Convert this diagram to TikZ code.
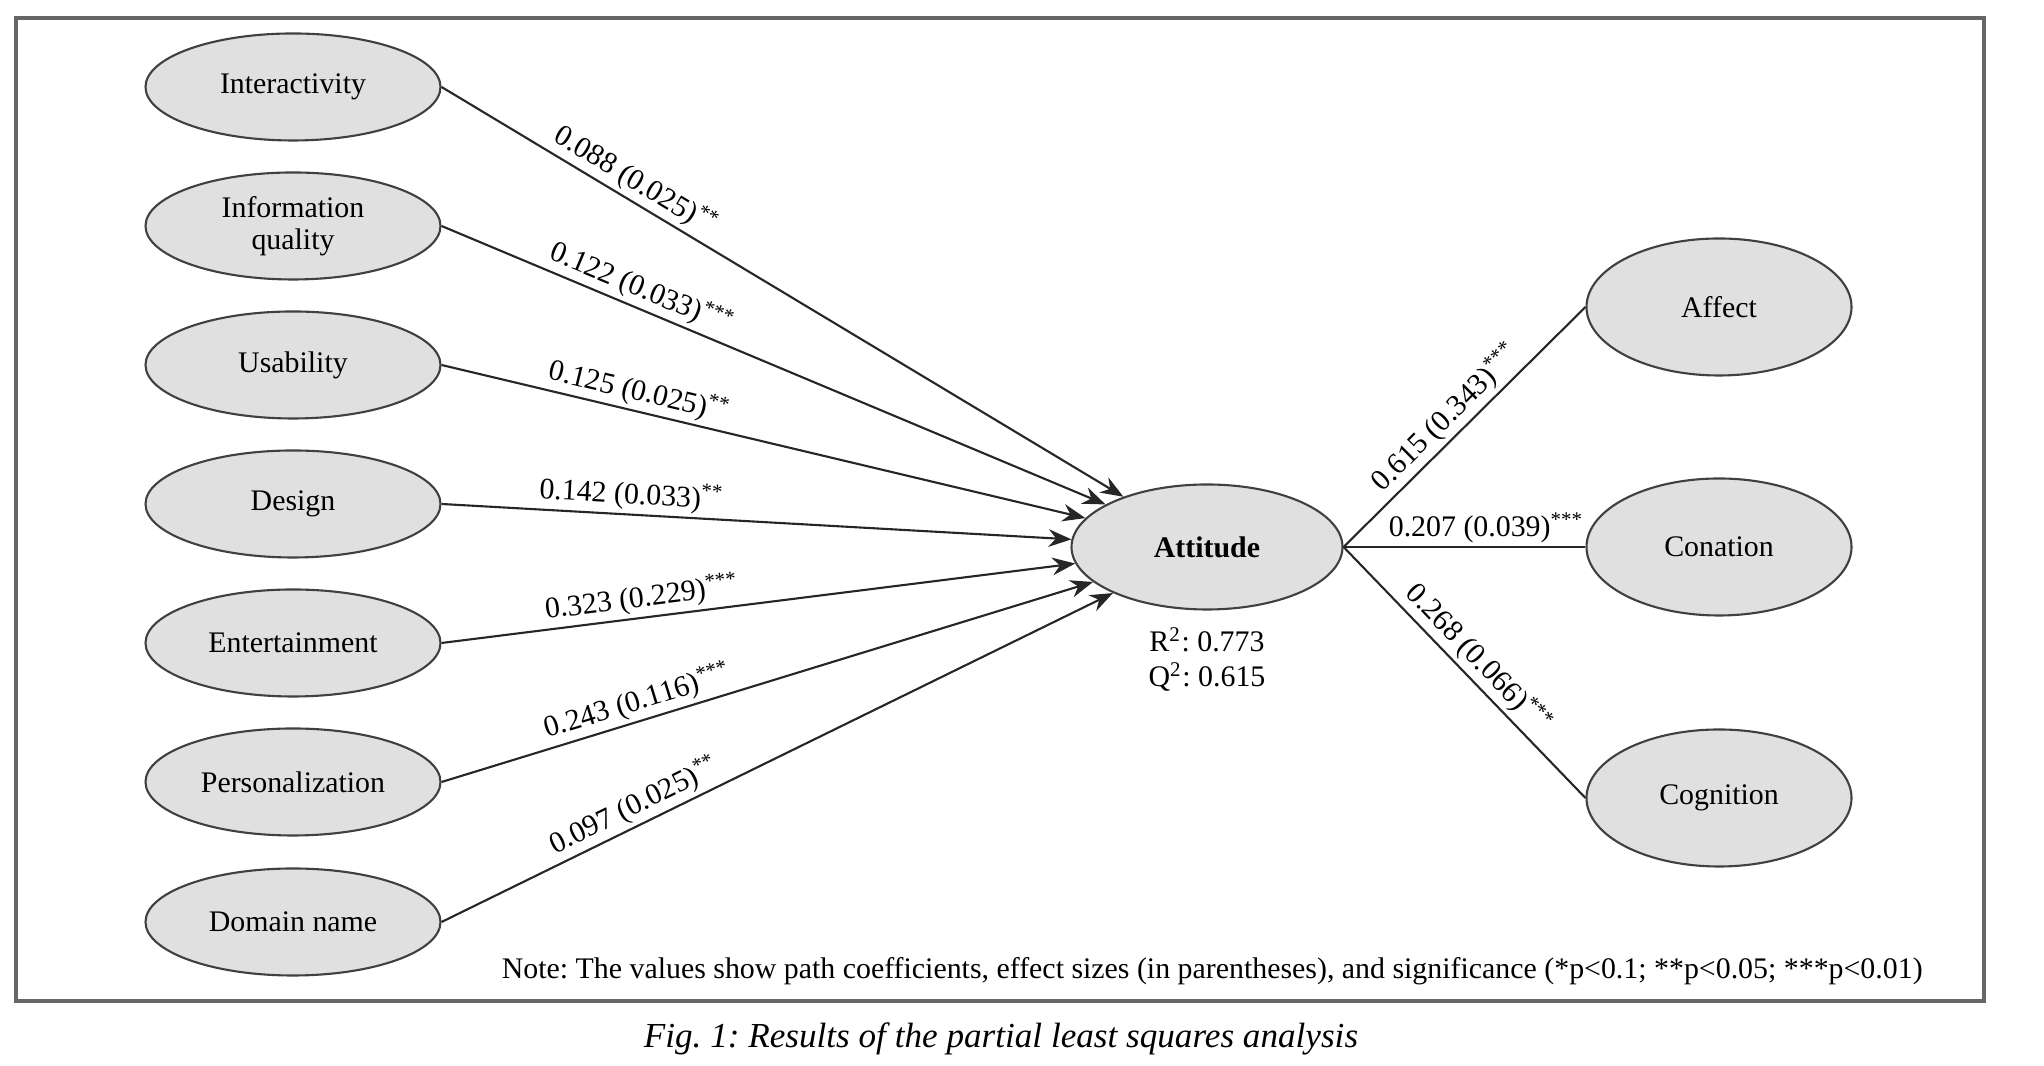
\documentclass[tikz,border=0pt]{standalone}
\usepackage{fontspec}
\setmainfont{Liberation Serif}
\usetikzlibrary{arrows.meta, positioning, shapes.geometric}
\frenchspacing

\begin{document}
\begin{tikzpicture}[>={Stealth[length=6.5pt, width=5pt]}, font=\fontsize{8.5}{10}\selectfont,
  latent/.style={ellipse, draw=black!75, line width=0.6pt, fill=black!12, minimum width=2.95cm, minimum height=1.07cm, inner sep=0pt, align=center},
  outcome/.style={latent, minimum width=2.65cm, minimum height=1.37cm},
  pathline/.style={line width=0.6pt, draw=black!85},
  coef/.style={sloped, above, inner sep=1pt}]
  \useasboundingbox (0,0) rectangle (20.44,10.66);
  \draw[black!60, line width=0.9pt] (0.16,0.65) rectangle (19.84,10.48);
  % antecedents
  \node[latent] (inter) at (2.93,9.79) {Interactivity};
  \node[latent] (info) at (2.93,8.40) {Information\\[-1pt]quality};
  \node[latent] (usab) at (2.93,7.01) {Usability};
  \node[latent] (design) at (2.93,5.62) {Design};
  \node[latent] (enter) at (2.93,4.23) {Entertainment};
  \node[latent] (person) at (2.93,2.84) {Personalization};
  \node[latent] (domain) at (2.93,1.44) {Domain name};
  % mediator and outcomes
  \node[latent, minimum width=2.71cm, minimum height=1.25cm, font=\fontsize{8.5}{10}\selectfont\bfseries] (att) at (12.07,5.19) {Attitude};
  \node[below=0.05cm of att, align=center] (rsq) {R\textsuperscript{2}: 0.773\\Q\textsuperscript{2}: 0.615};
  \node[outcome] (affect) at (17.19,7.59) {Affect};
  \node[outcome] (conat) at (17.19,5.19) {Conation};
  \node[outcome] (cogn) at (17.19,2.68) {Cognition};
  % paths into attitude
  \draw[->, pathline] (inter.east) -- (att) node[coef, pos=0.27] {0.088 (0.025)\textsuperscript{**}};
  \draw[->, pathline] (info.east) -- (att) node[coef, pos=0.29] {0.122 (0.033)\textsuperscript{***}};
  \draw[->, pathline] (usab.east) -- (att) node[coef, pos=0.3] {0.125 (0.025)\textsuperscript{**}};
  \draw[->, pathline] (design.east) -- (att) node[coef, pos=0.3] {0.142 (0.033)\textsuperscript{**}};
  \draw[->, pathline] (enter.east) -- (att) node[coef, pos=0.32] {0.323 (0.229)\textsuperscript{***}};
  \draw[->, pathline] (person.east) -- (att) node[coef, pos=0.31] {0.243 (0.116)\textsuperscript{***}};
  \draw[->, pathline] (domain.east) -- (att) node[coef, pos=0.3] {0.097 (0.025)\textsuperscript{**}};
  % paths out of attitude
  \draw[pathline] (att.east) -- (affect.west) node[coef, pos=0.48] {0.615 (0.343)\textsuperscript{***}};
  \draw[pathline] (att.east) -- (conat.west) node[coef, pos=0.59] {0.207 (0.039)\textsuperscript{***}};
  \draw[pathline] (att.east) -- (cogn.west) node[coef, pos=0.5] {0.268 (0.066)\textsuperscript{***}};
  \node[anchor=east] (note) at (19.35,0.95) {Note: The values show path coefficients, effect sizes (in parentheses), and significance (*p<0.1; **p<0.05; ***p<0.01)};
  \node[font=\fontsize{10}{12}\selectfont\itshape] (caption) at (10.01,0.27) {Fig. 1: Results of the partial least squares analysis};
\end{tikzpicture}
\end{document}
